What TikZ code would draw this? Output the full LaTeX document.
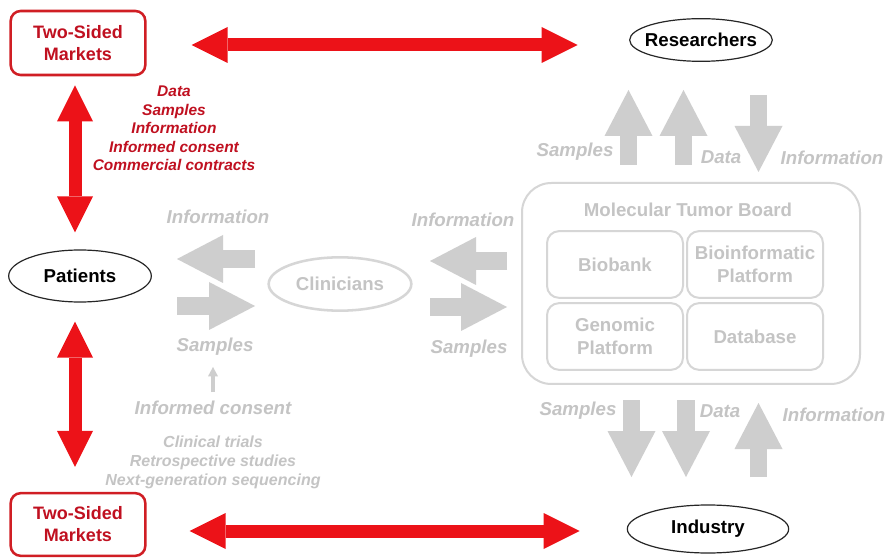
\documentclass[tikz,border=0pt]{standalone}
\usepackage{fontspec}
\setmainfont{Liberation Sans}
\usetikzlibrary{shapes.geometric,arrows.meta,calc}
\definecolor{arrred}{RGB}{236,18,24}
\definecolor{txtred}{RGB}{192,16,32}
\definecolor{boxred}{RGB}{208,30,36}
\definecolor{gtxt}{RGB}{196,196,196}
\definecolor{garrc}{RGB}{206,206,206}
\definecolor{gline}{RGB}{214,214,214}
\begin{document}
\begin{tikzpicture}[x=0.75pt,y=-0.75pt,
  market/.style={draw=boxred, line width=1.9pt, rounded corners=7.5pt, minimum width=101pt, minimum height=48pt, text=txtred, font=\bfseries\fontsize{13.5}{16.5}\selectfont, align=center, inner sep=0pt},
  actor/.style={ellipse, draw=black!85, line width=0.9pt, font=\bfseries\fontsize{14}{17}\selectfont, inner sep=0pt},
  redarr/.style={arrred, line width=9.75pt, {Triangle[length=27pt,width=27pt,line width=0pt]}-{Triangle[length=27pt,width=27pt,line width=0pt]}},
  garr/.style={garrc, line width=13pt, -{Triangle[length=34.5pt,width=36pt,line width=0pt]}},
  glabel/.style={text=gtxt, font=\bfseries\itshape\fontsize{14}{17}\selectfont, inner sep=0pt},
  gbox/.style={draw=gline, line width=1.5pt, rounded corners=9pt, minimum width=102pt, minimum height=50pt, text=gtxt, font=\bfseries\fontsize{14}{17}\selectfont, align=center, inner sep=0pt}
]
\useasboundingbox (0,0) rectangle (892,559);
\fill[white] (0,0) rectangle (892,559);

% red side
\node[market] (tsmtop) at (78,43) {Two-Sided\\Markets};
\node[market, minimum height=47pt] (tsmbot) at (78,524.5) {Two-Sided\\Markets};
\node[actor, minimum width=107pt, minimum height=32pt, inner xsep=-5pt] (res) at (701,40) {Researchers};
\node[actor, minimum width=107pt, minimum height=39pt] (pat) at (80,276) {Patients};
\node[actor, minimum width=121pt, minimum height=36pt] (ind) at (708,529) {Industry};

\draw[redarr] ($(tsmtop.east)+(45,2)$) -- ($(res.west)+(-51.5,5)$);
\draw[redarr] ($(tsmbot.east)+(43,6.5)$) -- ($(ind.west)+(-47,2)$);
\draw[redarr] ($(tsmtop.south)+(-3,9)$) -- ($(pat.north)+(-5,-17)$);
\draw[redarr] ($(pat.south)+(-5,19)$) -- ($(tsmbot.north)+(-3,-25)$);

\node[text=txtred, font=\bfseries\itshape\fontsize{11.6}{13.8}\selectfont, align=center] (redlist) at (174,128.5) {Data\\Samples\\Information\\Informed consent\\Commercial contracts};

% clinicians
\node[ellipse, draw=gline, line width=1.9pt, minimum width=107pt, minimum height=40pt, inner sep=0pt, text=gtxt, font=\bfseries\fontsize{14}{17}\selectfont] (cli) at (340,284) {Clinicians};

\coordinate (a1s) at (255,259); \coordinate (a1e) at (177,259);
\coordinate (a2s) at (177,306); \coordinate (a2e) at (255,306);
\coordinate (a3s) at (507,261); \coordinate (a3e) at (430,261);
\coordinate (a4s) at (430,307); \coordinate (a4e) at (507,307);
\draw[garr] (a1s) -- (a1e);
\draw[garr] (a2s) -- (a2e);
\draw[garr] (a3s) -- (a3e);
\draw[garr] (a4s) -- (a4e);

\node[glabel] (inf1) at (218,217) {Information};
\node[glabel] (sam1) at (215,347) {Samples};
\node[glabel] (icons) at (213,408) {Informed consent};
\coordinate (sa1) at (213,392); \coordinate (sa2) at (213,367);
\draw[garrc, line width=3pt, -{Triangle[length=7pt,width=7.5pt,line width=0pt]}] (sa1) -- (sa2);
\node[text=gtxt, font=\bfseries\itshape\fontsize{12}{14.3}\selectfont, align=center] (studies) at (213,462) {Clinical trials\\Retrospective studies\\Next-generation sequencing};
\node[glabel] (inf2) at (463,220) {Information};
\node[glabel] (sam2) at (469,349) {Samples};

% molecular tumor board
\node[draw=gline, line width=1.5pt, rounded corners=22pt, minimum width=253.5pt, minimum height=150.75pt, inner sep=0pt] (mtb) at (691,283.5) {};
\node[text=gtxt, font=\bfseries\fontsize{14}{17}\selectfont] (mtbt) at (688,210) {Molecular Tumor Board};
\node[gbox] (bio) at (615,264.5) {Biobank};
\node[gbox] (binf) at (755,264.5) {Bioinformatic\\Platform};
\node[gbox] (gen) at (615,336.5) {Genomic\\Platform};
\node[gbox] (db) at (755,336.5) {Database};

% vertical arrows top
\coordinate (u1s) at (628.5,165); \coordinate (u1e) at (628.5,90);
\coordinate (u2s) at (683.5,165); \coordinate (u2e) at (683.5,90);
\coordinate (d1s) at (758.5,95); \coordinate (d1e) at (758.5,172);
\draw[garr] (u1s) -- (u1e);
\draw[garr] (u2s) -- (u2e);
\draw[garr] (d1s) -- (d1e);
\node[glabel] (sam3) at (575,152) {Samples};
\node[glabel] (dat3) at (721,157) {Data};
\node[glabel] (inf3) at (832,158) {Information};

% vertical arrows bottom
\coordinate (d2s) at (631.5,400); \coordinate (d2e) at (631.5,477);
\coordinate (d3s) at (686,400); \coordinate (d3e) at (686,477);
\coordinate (u3s) at (758.5,477); \coordinate (u3e) at (758.5,403);
\draw[garr] (d2s) -- (d2e);
\draw[garr] (d3s) -- (d3e);
\draw[garr] (u3s) -- (u3e);
\node[glabel] (sam4) at (578,411) {Samples};
\node[glabel] (dat4) at (720,411) {Data};
\node[glabel] (inf4) at (834,415) {Information};
\end{tikzpicture}
\end{document}
